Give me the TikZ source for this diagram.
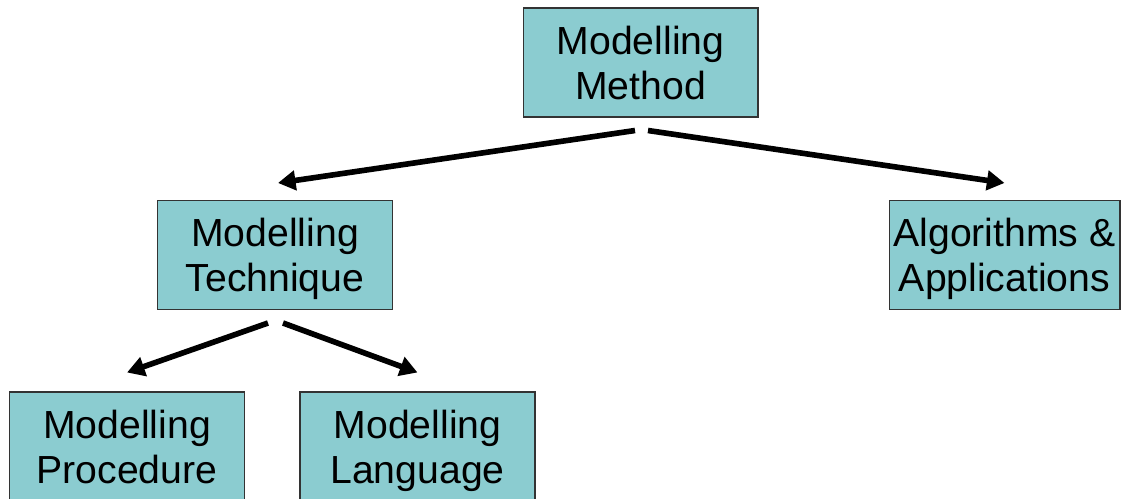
\documentclass[tikz,border=0pt]{standalone}
\usepackage{fontspec}
\setmainfont{Liberation Sans}
\usetikzlibrary{arrows.meta}
\definecolor{boxfill}{RGB}{139,204,208}
\begin{document}
\begin{tikzpicture}[x=0.02cm, y=-0.02cm,
  box/.style={draw=black!80, fill=boxfill, line width=0.6pt, minimum width=4.7cm,
    minimum height=2.18cm, align=center, inner sep=0pt, text depth=0pt,
    font=\fontsize{22.3}{25.5}\selectfont},
  arr/.style={line width=3.2pt, -{Triangle[length=10pt, width=11pt]}}]
\useasboundingbox (0,0) rectangle (1123,499);
\clip (0,0) rectangle (1123,499);

% Top level
\node [box] (mm) at (640.5,62.5) {Modelling\\Method};

% Second level
\node [box] (mt) at (275,255) {Modelling\\Technique};
\node [box, minimum width=4.62cm] (aa) at (1004.5,255) {Algorithms \&\\Applications};

% Third level
\node [box] (mp) at (127,446.5) {Modelling\\Procedure};
\node [box] (ml) at (417.5,446.5) {Modelling\\Language};

% Arrows
\draw [arr] ([xshift=-0.11cm, yshift=-0.26cm]mm.south) -- ([xshift=0.06cm, yshift=0.34cm]mt.north);
\draw [arr] ([xshift=0.15cm, yshift=-0.26cm]mm.south) -- ([yshift=0.34cm]aa.north);
\draw [arr] ([xshift=-0.14cm, yshift=-0.26cm]mt.south) -- ([yshift=0.38cm]mp.north);
\draw [arr] ([xshift=0.16cm, yshift=-0.26cm]mt.south) -- ([yshift=0.38cm]ml.north);
\end{tikzpicture}
\end{document}
